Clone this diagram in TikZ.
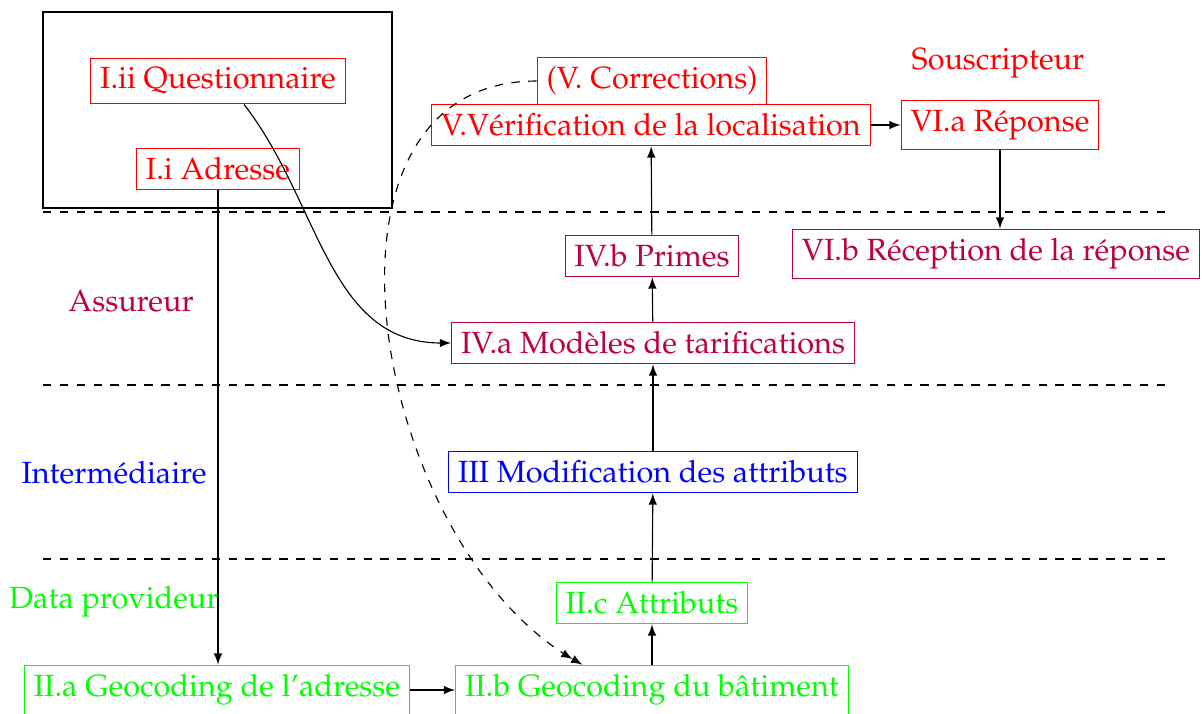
\documentclass[tikz,border=0pt]{standalone}
\usepackage[T1]{fontenc}
\usepackage{mathpazo}
\usetikzlibrary{positioning}
\usetikzlibrary{arrows}

\begin{document}
\begin{tikzpicture}[x=0.0125cm,y=-0.0125cm,>=latex,
	font=\fontsize{10.9}{13}\selectfont,
	etape/.style={draw},
	couche/.style={dashed}]
	\useasboundingbox (0,0) rectangle (1202,713);
	\draw (43,12) rectangle (392,208);

	% Souscripteur
	\node (quest) [etape, red] at (218,81) {I.ii Questionnaire};
	\node (adr) [etape, red] at (218,169) {I.i Adresse};
	\node (corr) [etape, red] at (652,81) {(V. Corrections)};
	\node (verif) [etape, red] at (651,125) {V.Vérification de la localisation};
	\node (souscr) [red] at (998,63) {Souscripteur};
	\node (repa) [etape, red] at (1000,125) {VI.a Réponse};

	% Assureur
	\node (repb) [etape, purple] at (996,254) {VI.b Réception de la réponse};
	\node (primes) [etape, purple] at (652,256) {IV.b Primes};
	\node (tarif) [etape, purple] at (653,343) {IV.a Modèles de tarifications};
	\node (assur) [purple] at (131,301) {Assureur};

	% Intermediaire
	\node (modif) [etape, blue] at (653,472) {III Modification des attributs};
	\node (interm) [blue] at (114,473) {Intermédiaire};

	% Data provideur
	\node (attr) [etape, green] at (652,603) {II.c Attributs};
	\node (dataprov) [green] at (114,602) {Data provideur};
	\node (geoa) [etape, green] at (217,690) {II.a Geocoding de l'adresse};
	\node (geob) [etape, green] at (652,690) {II.b Geocoding du bâtiment};

	\draw[couche] (43,212) -- (1172,212);
	\draw[couche] (43,385) -- (1172,385);
	\draw[couche] (43,559) -- (1172,559);

	\draw[->] (adr.south) -- (adr.south |- geoa.north);
	\draw[->] (geoa) -- (geob);
	\draw[->] (geob) -- (attr);
	\draw[->] (attr) -- (modif);
	\draw[->] (modif) -- (tarif);
	\draw[->] (tarif) -- (primes);
	\draw[->] (primes) -- (verif);
	\draw[->] (verif) -- (repa);
	\draw[->] (repa.south) -- (repa.south |- repb.north);
	\draw[->] (quest.-42) to[out=-52,in=180] (tarif);
	\draw[->>,dashed] (corr) to[out=180,in=150,looseness=1.07] (geob.160);
\end{tikzpicture}
\end{document}
